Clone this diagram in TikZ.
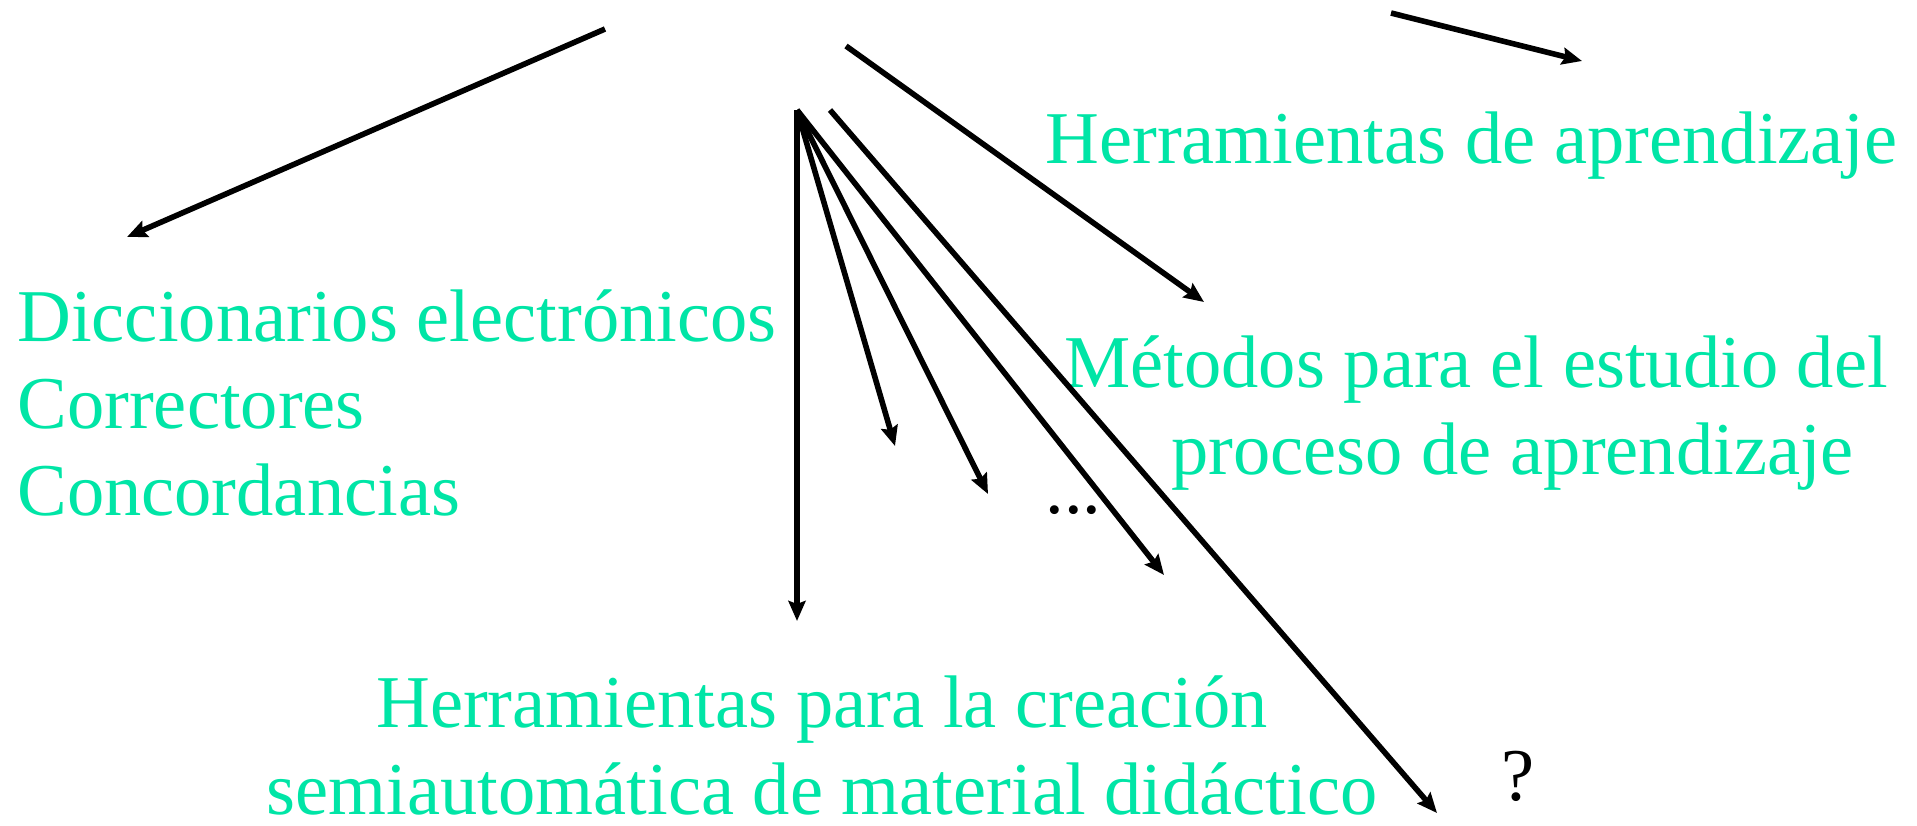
\documentclass[tikz,border=0pt]{standalone}
\usepackage{fontspec}
\setmainfont{Liberation Serif}
\newfontfamily\timesfam{Liberation Serif}
\usetikzlibrary{arrows.meta}
\definecolor{mint}{RGB}{0,229,166}
\begin{document}
\begin{tikzpicture}[x=0.5pt,y=-0.5pt,
  conn/.style={line width=2.8pt,-{Stealth[length=10pt,width=8.5pt,inset=1.5pt]}},
  lbl/.style={inner sep=0pt,text=mint,font=\timesfam\fontsize{37.25pt}{43.5pt}\selectfont},
  blk/.style={inner sep=0pt,text=black,font=\timesfam\fontsize{37.25pt}{43.5pt}\selectfont}]
\useasboundingbox (0,0) rectangle (1917,825);
% labels
\node[lbl,anchor=base west,align=left] (dicc) at (17,515) {Diccionarios electrónicos\\Correctores\\Concordancias};
\node[lbl,anchor=base west] (herr) at (1045,163) {Herramientas de aprendizaje};
\node[lbl,anchor=base west,align=left] (metodos) at (1064,474) {Métodos para el estudio del\\\hspace*{53.5pt}proceso de aprendizaje};
\node[lbl,anchor=base,align=center] (crea) at (822,814) {Herramientas para la creación\\semiautomática de material didáctico};
\node[blk,anchor=base west] (dots) at (1045,513) {...};
\node[blk,anchor=base west] (q) at (1501,800) {?};
% connector end points
\coordinate (a1s) at (605,29);   \coordinate (a1e) at (127,237);
\coordinate (a2s) at (846,46);   \coordinate (a2e) at (1204,302);
\coordinate (a3s) at (1391,13);  \coordinate (a3e) at (1582,61);
\coordinate (f0) at (797,110);
\coordinate (f1) at (797,621);
\coordinate (f2) at (895,446);
\coordinate (f3) at (988,494);
\coordinate (f4) at (1164,575);
\coordinate (f5s) at (830,110);  \coordinate (f5e) at (1437,813);
% connectors
\draw[conn] (a1s) -- (a1e);
\draw[conn] (a2s) -- (a2e);
\draw[conn] (a3s) -- (a3e);
\draw[conn] (f0) -- (f1);
\draw[conn] (f0) -- (f2);
\draw[conn] (f0) -- (f3);
\draw[conn] (f0) -- (f4);
\draw[conn] (f5s) -- (f5e);
\end{tikzpicture}
\end{document}
